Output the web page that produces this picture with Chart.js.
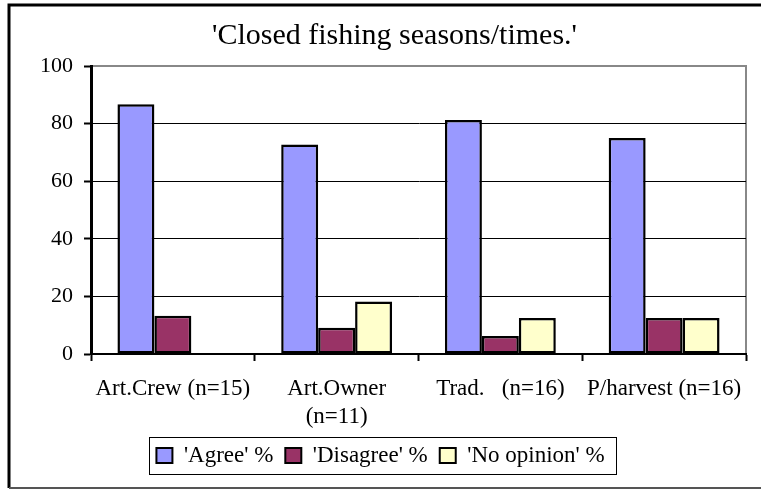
<!DOCTYPE html>
<html>
<head>
<meta charset="utf-8">
<script src="https://cdn.jsdelivr.net/npm/chart.js@4/dist/chart.umd.min.js"></script>
<style>
  html, body { margin: 0; padding: 0; background: #fff; }
  #wrap { width: 761px; height: 490px; position: relative; }
</style>
</head>
<body>
<div id="wrap"><canvas id="seasonChart"></canvas></div>
<script>
// survey groups and the share of each answer (%)
var groups = ['Art.Crew (n=15)', ['Art.Owner', '(n=11)'], 'Trad.   (n=16)', 'P/harvest (n=16)'];
var agreePct = [86.7, 72.7, 81.25, 75];
var disagreePct = [13.3, 9.1, 6.25, 12.5];
var noOpinionPct = [0, 18.2, 12.5, 12.5];
var yTicks = [0, 20, 40, 60, 80, 100];

var serif = '"Liberation Serif", "Times New Roman", serif';

// frame round the whole chart + box round the legend
var framePlugin = {
	id: 'frame',
	beforeDraw: function(chart){
		var ctx = chart.ctx;
		ctx.save();
		ctx.fillStyle = '#fff';
		ctx.fillRect(0, 0, chart.width, chart.height);
		ctx.strokeStyle = '#000';
		ctx.lineWidth = 3;
		ctx.beginPath();
		ctx.moveTo(9, 488);
		ctx.lineTo(9, 5);
		ctx.lineTo(chart.width, 5);
		ctx.stroke();
		ctx.strokeStyle = '#555';
		ctx.lineWidth = 2;
		ctx.beginPath();
		ctx.moveTo(9, 488);
		ctx.lineTo(chart.width, 488);
		ctx.stroke();
		// grey top/right edge of the plot area
		var a = chart.chartArea;
		ctx.strokeStyle = '#888';
		ctx.lineWidth = 2;
		ctx.beginPath();
		ctx.moveTo(a.left, a.top);
		ctx.lineTo(a.right, a.top);
		ctx.lineTo(a.right, a.bottom);
		ctx.stroke();
		ctx.restore();
	},
	afterLayout: function(chart){
		// title sits a little right of centre
		if (chart.titleBlock) {
			chart.titleBlock.left += 14;
			chart.titleBlock.right += 14;
		}
	},
	afterDraw: function(chart){
		var lg = chart.legend;
		if (!lg || !lg.legendHitBoxes || !lg.legendHitBoxes.length) return;
		var boxes = lg.legendHitBoxes;
		var first = boxes[0], last = boxes[boxes.length - 1];
		var cy = first.top + first.height / 2;
		var ctx = chart.ctx;
		ctx.save();
		ctx.strokeStyle = '#000';
		ctx.lineWidth = 1;
		ctx.strokeRect(Math.round(first.left - 7) + 0.5, Math.round(cy - 18.5) + 0.5,
			Math.round(last.left + last.width - first.left + 19), 37);
		ctx.restore();
	}
};

var barStyle = { borderColor: '#000', borderWidth: 2.5, borderSkipped: false };

new Chart(document.getElementById('seasonChart'), {
	type: 'bar',
	data: {
		labels: groups,
		datasets: [
			Object.assign({ label: "'Agree' %", data: agreePct, backgroundColor: '#9999ff' }, barStyle),
			Object.assign({ label: "'Disagree' %", data: disagreePct, backgroundColor: '#993366' }, barStyle),
			Object.assign({ label: "'No opinion' %", data: noOpinionPct, backgroundColor: '#ffffcc' }, barStyle)
		]
	},
	options: {
		responsive: true,
		maintainAspectRatio: false,
		animation: false,
		devicePixelRatio: 1,
		layout: { padding: { left: 15, right: 15, top: 0, bottom: 13 } },
		datasets: { bar: { categoryPercentage: 0.677, barPercentage: 1 } },
		plugins: {
			title: {
				display: true,
				text: "'Closed fishing seasons/times.'",
				color: '#000',
				font: { family: serif, size: 30, weight: 'normal', lineHeight: 1.2 },
				padding: { top: 18, bottom: 12 }
			},
			legend: {
				position: 'bottom',
				labels: {
					color: '#000',
					font: { family: serif, size: 23 },
					boxWidth: 16,
					boxHeight: 15,
					padding: 12,
					generateLabels: function(chart){
						var items = Chart.defaults.plugins.legend.labels.generateLabels(chart);
						items.forEach(function(it){ it.lineWidth = 2; });
						return items;
					}
				}
			},
			tooltip: { enabled: false }
		},
		scales: {
			x: {
				grid: { drawOnChartArea: false, color: '#000', tickLength: 7, tickWidth: 2 },
				border: { color: '#000', width: 2 },
				ticks: {
					color: '#000',
					padding: 14,
					maxRotation: 0,
					autoSkip: false,
					font: { family: serif, size: 23, lineHeight: 1.23 }
				},
				afterFit: function(scale){ scale.height = 78; }
			},
			y: {
				min: 0,
				max: 100,
				afterBuildTicks: function(scale){
					scale.ticks = yTicks.map(function(v){ return { value: v }; });
				},
				grid: {
					color: function(c){ return c.tick && c.tick.value === 100 ? '#888' : '#000'; },
					lineWidth: 1,
					tickLength: 7,
					tickWidth: 2,
					tickColor: '#000'
				},
				border: { color: '#000', width: 3 },
				ticks: {
					color: '#000',
					padding: 11,
					font: { family: serif, size: 22 }
				},
				afterFit: function(scale){ scale.width = 76; }
			}
		}
	},
	plugins: [framePlugin]
});
</script>
</body>
</html>
